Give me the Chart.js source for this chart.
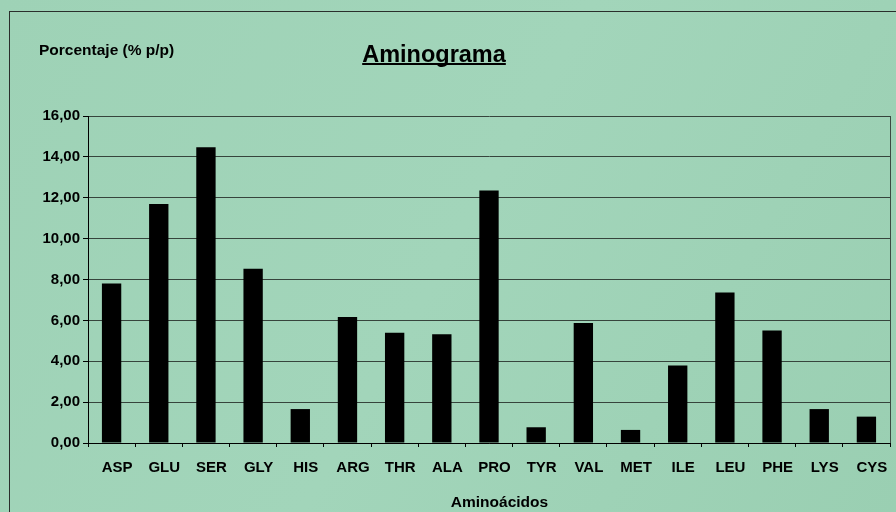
<!DOCTYPE html>
<html>
<head>
<meta charset="utf-8">
<script src="https://cdn.jsdelivr.net/npm/chart.js@4/dist/chart.umd.min.js"></script>
<style>
  html, body { margin: 0; padding: 0; background: #9dd1b5; }
  #wrap { width: 896px; height: 512px; }
</style>
</head>
<body>
<div id="wrap"><canvas id="c" width="896" height="512"></canvas></div>
<script>
const categories = ['ASP','GLU','SER','GLY','HIS','ARG','THR','ALA','PRO','TYR','VAL','MET','ILE','LEU','PHE','LYS','CYS'];
const values = [7.80, 11.69, 14.47, 8.53, 1.66, 6.16, 5.40, 5.32, 12.36, 0.77, 5.87, 0.64, 3.79, 7.37, 5.51, 1.66, 1.29];
const yTickLabels = ['0,00','2,00','4,00','6,00','8,00','10,00','12,00','14,00','16,00'];
const chartTitle = 'Aminograma';
const yTitle = 'Porcentaje (% p/p)';
const xTitle = 'Aminoácidos';

const FONT = '"Liberation Sans", Arial, sans-serif';

const decor = {
  id: 'decor',
  beforeDraw(chart) {
    const ctx = chart.ctx;
    ctx.save();
    const g = ctx.createLinearGradient(0, 0, 896, 512);
    g.addColorStop(0, '#9ed2b6');
    g.addColorStop(0.5, '#a2d5ba');
    g.addColorStop(1, '#9acfb2');
    ctx.fillStyle = g;
    ctx.fillRect(0, 0, chart.width, chart.height);
    ctx.strokeStyle = '#2a2f2c';
    ctx.lineWidth = 1;
    ctx.strokeRect(9.5, 11.5, 1000, 1000);
    ctx.restore();
  },
  afterDraw(chart) {
    const ctx = chart.ctx;
    const a = chart.chartArea;
    ctx.save();
    ctx.strokeStyle = '#3c4a42';
    ctx.lineWidth = 1;
    ctx.beginPath();
    ctx.moveTo(Math.round(a.right) + 0.5, a.top);
    ctx.lineTo(Math.round(a.right) + 0.5, a.bottom);
    ctx.stroke();

    ctx.fillStyle = '#000';
    ctx.textBaseline = 'alphabetic';
    ctx.font = 'bold 15.5px ' + FONT;
    ctx.textAlign = 'left';
    ctx.fillText(yTitle, 39, 55);

    ctx.font = 'bold 23.5px ' + FONT;
    ctx.textAlign = 'center';
    const tx = 434, ty = 61.5;
    ctx.fillText(chartTitle, tx, ty);
    const w = ctx.measureText(chartTitle).width;
    ctx.fillRect(tx - w / 2, 63, w, 2);

    ctx.font = 'bold 15.5px ' + FONT;
    ctx.fillText(xTitle, 499.5, 507);
    ctx.restore();
  }
};

new Chart(document.getElementById('c'), {
  type: 'bar',
  data: {
    labels: categories,
    datasets: [{
      data: values,
      backgroundColor: '#000000',
      borderWidth: 0,
      barPercentage: 0.41,
      categoryPercentage: 1.0
    }]
  },
  options: {
    responsive: false,
    devicePixelRatio: 1,
    animation: false,
    layout: { padding: { top: 116, right: 6, left: 0, bottom: 0 } },
    plugins: {
      legend: { display: false },
      title: { display: false },
      tooltip: { enabled: false }
    },
    scales: {
      x: {
        offset: true,
        afterFit(scale) { scale.height = 69; },
        grid: {
          display: true,
          offset: true,
          drawOnChartArea: false,
          drawTicks: true,
          tickLength: 4,
          color: '#000',
          lineWidth: 1
        },
        border: { display: true, color: '#000', width: 1 },
        ticks: {
          color: '#000',
          padding: 12,
          labelOffset: 5.5,
          maxRotation: 0,
          autoSkip: false,
          font: { family: FONT, size: 15, weight: 'bold' }
        }
      },
      y: {
        min: 0,
        max: 16,
        afterFit(scale) { scale.width = 88; },
        grid: {
          color: '#36443c',
          tickColor: '#000',
          lineWidth: 1,
          drawTicks: true,
          tickLength: 5
        },
        border: { display: true, color: '#000', width: 1 },
        ticks: {
          stepSize: 2,
          color: '#000',
          padding: 3,
          font: { family: FONT, size: 15, weight: 'bold' },
          callback(v, i) { return yTickLabels[i]; }
        }
      }
    }
  },
  plugins: [decor]
});
</script>
</body>
</html>
